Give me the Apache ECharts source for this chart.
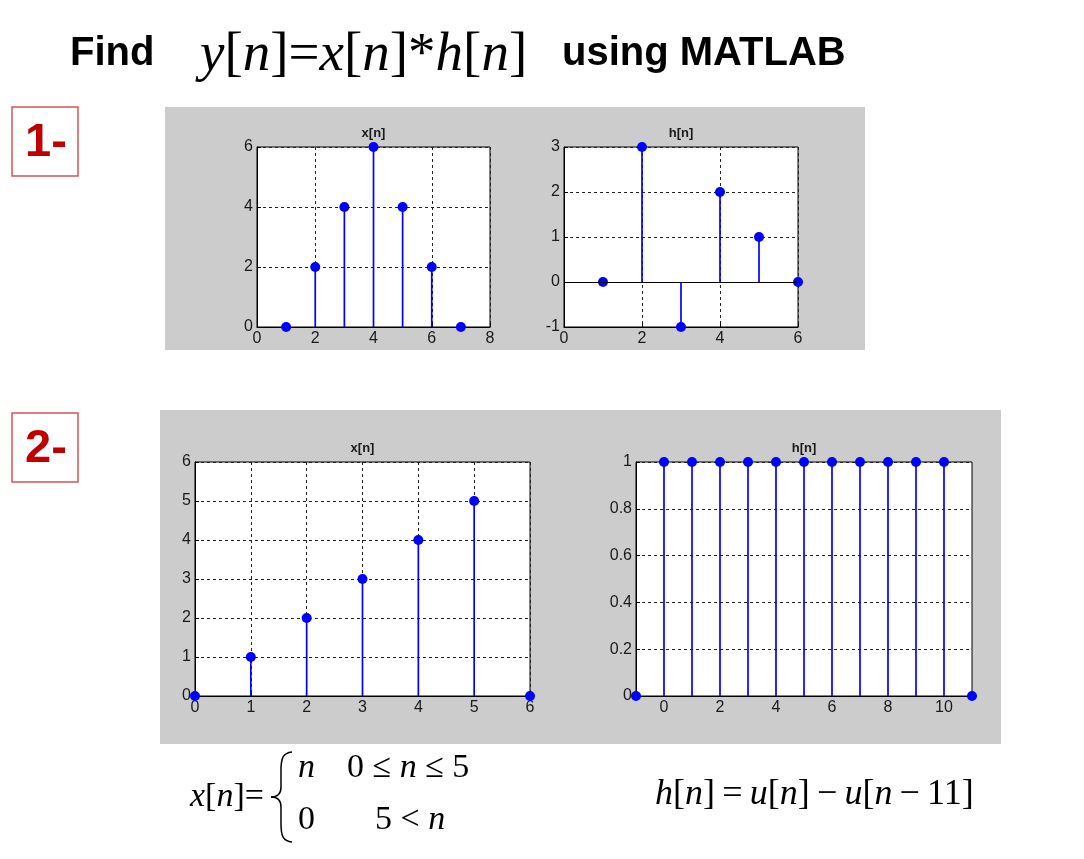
<!DOCTYPE html>
<html><head><meta charset="utf-8">
<script src="https://cdn.jsdelivr.net/npm/echarts@6/dist/echarts.min.js"></script>
<style>html,body{margin:0;padding:0;background:#fff}#c{width:1084px;height:859px}</style>
</head><body><div id="c"></div>
<script>
// ---- data ----
const n1 = [1, 2, 3, 4, 5, 6, 7];
const x1 = [0, 2, 4, 6, 4, 2, 0];
const n2 = [1, 2, 3, 4, 5, 6];
const h1 = [0, 3, -1, 2, 1, 0];
const n3 = [0, 1, 2, 3, 4, 5, 6];
const x2 = [0, 1, 2, 3, 4, 5, 0];
const n4 = [-1, 0, 1, 2, 3, 4, 5, 6, 7, 8, 9, 10, 11];
const h2 = [0, 1, 1, 1, 1, 1, 1, 1, 1, 1, 1, 1, 0];
const plotTitles = ['x[n]', 'h[n]', 'x[n]', 'h[n]'];
const xRanges = [[0, 8, 2], [0, 6, 2], [0, 6, 1], [-1, 11, 1]];
const yRanges = [[0, 6, 2], [-1, 3, 1], [0, 6, 1], [0, 1, 0.2]];

// ---- layout ----
const grids = [
  {left: 257, top: 147, width: 233, height: 180},
  {left: 564, top: 147, width: 234, height: 180},
  {left: 195, top: 462, width: 335, height: 234},
  {left: 636, top: 462, width: 336, height: 234}
];
const AX = '#000';
const labelStyle = {color: '#1a1a1a', fontSize: 16, fontFamily: 'Liberation Sans Narrow, Arial Narrow, Liberation Sans, sans-serif'};
const gridDash = {color: '#222', type: [3, 3], width: 1};

const chart = echarts.init(document.getElementById('c'), null, {renderer: 'canvas'});

const xAxis = xRanges.map((r, i) => ({
  type: 'value', gridIndex: i, min: r[0], max: r[1], interval: r[2],
  axisLine: {show: true, onZero: false, lineStyle: {color: AX, width: 1}},
  axisTick: {show: i !== 3, inside: true, length: 4, lineStyle: {color: AX}},
  axisLabel: Object.assign({margin: 4,
    formatter: i === 3 ? (v => (v >= 0 && v <= 10 && v % 2 === 0) ? String(v) : '') : (v => String(v))
  }, labelStyle),
  splitLine: {show: i !== 3, lineStyle: gridDash}
}));
const yAxis = yRanges.map((r, i) => ({
  type: 'value', gridIndex: i, min: r[0], max: r[1], interval: r[2],
  axisLine: {show: true, onZero: false, lineStyle: {color: AX, width: 1}},
  axisTick: {show: true, inside: true, length: 4, lineStyle: {color: AX}},
  axisLabel: Object.assign({margin: 4, formatter: v => String(Math.round(v * 10) / 10)}, labelStyle),
  splitLine: {show: true, lineStyle: gridDash}
}));

function stem(idx, ns, vs, baseline) {
  const data = ns.map((n, i) => [n, vs[i]]);
  const s = [{
    type: 'custom', xAxisIndex: idx, yAxisIndex: idx, data, silent: true, clip: false, z: 3,
    renderItem: (p, api) => {
      const a = api.coord([api.value(0), 0]);
      const b = api.coord([api.value(0), api.value(1)]);
      return {type: 'line', shape: {x1: a[0], y1: a[1], x2: b[0], y2: b[1]},
        style: {stroke: '#0000ff', lineWidth: 1.7}};
    }
  }, {
    type: 'scatter', xAxisIndex: idx, yAxisIndex: idx, data, silent: true, clip: false, z: 4,
    symbol: 'circle', symbolSize: 10, itemStyle: {color: '#0000ff', opacity: 1}
  }];
  if (baseline) {
    s[0].markLine = {silent: true, symbol: 'none', label: {show: false},
      lineStyle: {color: '#000', type: 'solid', width: 1}, data: [{yAxis: 0}], animation: false};
  }
  return s;
}

const titles = grids.map((g, i) => ({
  type: 'text', z: 20, x: g.left + g.width / 2, y: g.top - 7,
  style: {text: plotTitles[i], fill: '#1a1a1a', font: 'bold 13px Liberation Sans, Arial, sans-serif',
    textAlign: 'center', textVerticalAlign: 'bottom', verticalAlign: 'bottom'}
}));

const serif = 'Liberation Serif, Times New Roman, serif';
function mathText(x, y, str, size, align) {
  return {type: 'text', z: 20, x, y, style: {
    text: str, fill: '#000', fontSize: size, fontFamily: serif,
    textAlign: align || 'left', textVerticalAlign: 'middle', verticalAlign: 'middle',
    rich: {i: {fontStyle: 'italic', fontSize: size, fontFamily: serif, fill: '#000'}}
  }};
}
const braceStyle = {fill: 'none', stroke: '#000', lineWidth: 1.5};
function bz(x1, y1, c1x, c1y, c2x, c2y, x2, y2) {
  return {type: 'bezierCurve', z: 20, shape: {x1, y1, cpx1: c1x, cpy1: c1y, cpx2: c2x, cpy2: c2y, x2, y2}, style: braceStyle};
}
function ln(x1, y1, x2, y2) {
  return {type: 'line', z: 20, shape: {x1, y1, x2, y2}, style: braceStyle};
}
const ts = '\u2009';

const graphics = [
  {type: 'rect', z: -10, shape: {x: 165, y: 107, width: 700, height: 243}, style: {fill: '#cccccc'}},
  {type: 'rect', z: -10, shape: {x: 160, y: 410, width: 841, height: 334}, style: {fill: '#cccccc'}},
  // numbered boxes
  {type: 'rect', z: 20, shape: {x: 12, y: 107, width: 66, height: 69}, style: {fill: '#fff', stroke: '#d45555', lineWidth: 1.5}},
  {type: 'text', z: 21, x: 46, y: 143, style: {text: '1-', fill: '#c00000', font: 'bold 47px Liberation Sans, Arial, sans-serif', textAlign: 'center', textVerticalAlign: 'middle', verticalAlign: 'middle'}},
  {type: 'rect', z: 20, shape: {x: 12, y: 413, width: 66, height: 69}, style: {fill: '#fff', stroke: '#d45555', lineWidth: 1.5}},
  {type: 'text', z: 21, x: 46, y: 449, style: {text: '2-', fill: '#c00000', font: 'bold 47px Liberation Sans, Arial, sans-serif', textAlign: 'center', textVerticalAlign: 'middle', verticalAlign: 'middle'}},
  // heading
  {type: 'text', z: 20, x: 70, y: 54, style: {text: 'Find', fill: '#000', font: 'bold 40px Liberation Sans, Arial, sans-serif', textAlign: 'left', textVerticalAlign: 'middle', verticalAlign: 'middle'}},
  mathText(200, 56, '{i|y}[{i|n}]={i|x}[{i|n}]*{i|h}[{i|n}]', 55),
  {type: 'text', z: 20, x: 562, y: 54, style: {text: 'using MATLAB', fill: '#000', font: 'bold 40px Liberation Sans, Arial, sans-serif', textAlign: 'left', textVerticalAlign: 'middle', verticalAlign: 'middle'}},
  // formulas
  mathText(190, 797, '{i|x}[{i|n}]=', 34),
  bz(292, 752, 283, 753, 281, 758, 281, 770),
  ln(281, 770, 281, 787),
  bz(281, 787, 281, 794, 278, 797, 271, 797),
  bz(271, 797, 278, 797, 281, 800, 281, 807),
  ln(281, 807, 281, 824),
  bz(281, 824, 281, 836, 283, 841, 292, 842),
  mathText(298, 768, '{i|n}', 34),
  mathText(347, 768, '0 ≤ {i|n} ≤ 5', 34),
  mathText(298, 820, '0', 34),
  mathText(375, 820, '5 < {i|n}', 34),
  mathText(655, 795, '{i|h}[{i|n}]' + ts + '=' + ts + '{i|u}[{i|n}]' + ts + '−' + ts + '{i|u}[{i|n}' + ts + '−' + ts + '11]', 36)
].concat(titles);

chart.setOption({
  animation: false,
  backgroundColor: '#fff',
  grid: grids.map(g => Object.assign({show: true, backgroundColor: '#fff', borderColor: '#000', borderWidth: 1, containLabel: false}, g)),
  xAxis, yAxis,
  series: [].concat(stem(0, n1, x1), stem(1, n2, h1, true), stem(2, n3, x2), stem(3, n4, h2)),
  graphic: {elements: graphics}
});
</script></body></html>
